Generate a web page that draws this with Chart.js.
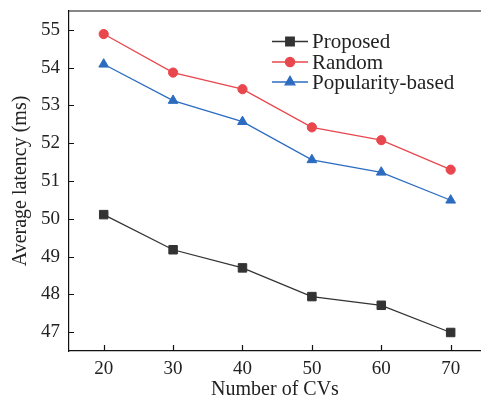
<!DOCTYPE html>
<html>
<head>
<meta charset="utf-8">
<script src="https://cdn.jsdelivr.net/npm/chart.js@4"></script>
<style>
  html, body { margin: 0; padding: 0; background: #ffffff; }
  #grafico { display: block; }
</style>
</head>
<body>
<canvas id="grafico" width="481" height="404"></canvas>
<script>
// Datos
const numCVs = [20, 30, 40, 50, 60, 70];
const latProposed = [50.11, 49.18, 48.70, 47.94, 47.71, 46.99];
const latRandom = [54.89, 53.87, 53.43, 52.42, 52.08, 51.30];
const latPopularity = [54.09, 53.13, 52.57, 51.56, 51.23, 50.49];
const yTicks = [47, 48, 49, 50, 51, 52, 53, 54, 55];

const FUENTE = "'Liberation Serif', 'Times New Roman', serif";

const toPoints = arr => arr.map((v, i) => ({ x: numCVs[i], y: v }));

// Marcas hacia dentro + borde superior
const ejesPlugin = {
  id: 'ejes',
  afterDraw(chart) {
    const { ctx, chartArea, scales } = chart;
    ctx.save();
    ctx.strokeStyle = '#111';
    ctx.lineWidth = 1.2;
    ctx.beginPath();
    ctx.moveTo(chartArea.left, chartArea.top);
    ctx.lineTo(chartArea.right, chartArea.top);
    yTicks.forEach(t => {
      const y = Math.round(scales.y.getPixelForValue(t)) + 0.5;
      ctx.moveTo(chartArea.left, y);
      ctx.lineTo(chartArea.left + 5, y);
    });
    numCVs.forEach(t => {
      const x = Math.round(scales.x.getPixelForValue(t)) + 0.5;
      ctx.moveTo(x, chartArea.bottom);
      ctx.lineTo(x, chartArea.bottom - 6);
    });
    ctx.stroke();
    ctx.restore();
  }
};

// Leyenda dibujada dentro del área
const leyendaPlugin = {
  id: 'leyendaDentro',
  afterDatasetsDraw(chart) {
    const { ctx } = chart;
    const x0 = 272, x1 = 308, filas = [41.5, 62, 82];
    ctx.save();
    chart.data.datasets.forEach((ds, i) => {
      const y = filas[i];
      ctx.strokeStyle = ds.borderColor;
      ctx.lineWidth = ds.borderWidth;
      ctx.beginPath();
      ctx.moveTo(x0, y);
      ctx.lineTo(x1, y);
      ctx.stroke();
      ctx.fillStyle = ds.pointBackgroundColor;
      ctx.strokeStyle = ds.pointBorderColor;
      Chart.helpers.drawPoint(ctx, {
        pointStyle: ds.pointStyle,
        radius: ds.pointRadius,
        borderWidth: 1
      }, (x0 + x1) / 2, y);
      ctx.fillStyle = '#222';
      ctx.font = '21px ' + FUENTE;
      ctx.textBaseline = 'middle';
      ctx.textAlign = 'left';
      ctx.fillText(ds.label, 312, y + 1);
    });
    ctx.restore();
  }
};

new Chart(document.getElementById('grafico'), {
  type: 'line',
  data: {
    datasets: [{
      label: 'Proposed',
      data: toPoints(latProposed),
      borderColor: '#333333',
      borderWidth: 1.3,
      pointStyle: 'rect',
      pointRadius: 6,
      pointBackgroundColor: '#333333',
      pointBorderColor: '#333333',
      pointBorderWidth: 1
    }, {
      label: 'Random',
      data: toPoints(latRandom),
      borderColor: '#e8474d',
      borderWidth: 1.3,
      pointStyle: 'circle',
      pointRadius: 4.6,
      pointBackgroundColor: '#e8474d',
      pointBorderColor: '#e8474d',
      pointBorderWidth: 1
    }, {
      label: 'Popularity-based',
      data: toPoints(latPopularity),
      borderColor: '#2c6cc0',
      borderWidth: 1.3,
      pointStyle: 'triangle',
      pointRadius: 5.6,
      pointBackgroundColor: '#2c6cc0',
      pointBorderColor: '#2c6cc0',
      pointBorderWidth: 1
    }]
  },
  options: {
    responsive: false,
    animation: false,
    layout: { autoPadding: false, padding: { left: 0, top: 11, right: 0, bottom: 0 } },
    plugins: {
      legend: { display: false },
      tooltip: { enabled: false }
    },
    scales: {
      x: {
        type: 'linear',
        min: 15,
        max: 74.37,
        afterBuildTicks: s => { s.ticks = numCVs.map(v => ({ value: v })); },
        afterFit: s => { s.height = 53; s.paddingLeft = 0; s.paddingRight = 0; },
        grid: { display: false, drawTicks: false },
        border: { display: true, color: '#111', width: 1.2 },
        ticks: { color: '#222', padding: 7, font: { family: FUENTE, size: 19 } },
        title: {
          display: true,
          text: 'Number of CVs',
          color: '#222',
          padding: { top: 0, bottom: 2 },
          font: { family: FUENTE, size: 20 }
        }
      },
      y: {
        min: 46.5,
        max: 55.5,
        afterBuildTicks: s => { s.ticks = yTicks.map(v => ({ value: v })); },
        afterFit: s => { s.width = 69; s.paddingTop = 0; s.paddingBottom = 0; },
        grid: { display: false, drawTicks: false },
        border: { display: true, color: '#111', width: 1.2 },
        ticks: { color: '#222', padding: 9, font: { family: FUENTE, size: 19 } },
        title: {
          display: true,
          text: 'Average latency (ms)',
          color: '#222',
          padding: { top: 9, bottom: 0 },
          font: { family: FUENTE, size: 20 }
        }
      }
    }
  },
  plugins: [ejesPlugin, leyendaPlugin]
});
</script>
</body>
</html>
